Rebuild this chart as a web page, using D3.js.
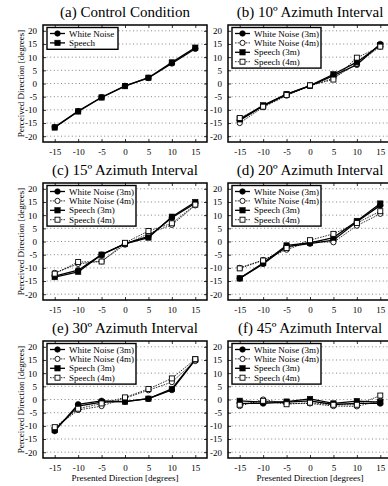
<!DOCTYPE html>
<html>
<head>
<meta charset="utf-8">
<script src="https://cdn.jsdelivr.net/npm/d3@7"></script>
<style>
    body {margin: 0; background: #fff;}
    svg text {font-family: "Liberation Serif", "Times New Roman", Times, "DejaVu Serif", serif;}
</style>
</head>
<body>
<svg id="chart" width="388" height="486"></svg>
<script>
const presented = [-15, -10, -5, 0, 5, 10, 15];
const yTicks = [-20, -15, -10, -5, 0, 5, 10, 15, 20];

const panelTitles = ["(a) Control Condition", "(b) 10º Azimuth Interval", "(c) 15º Azimuth Interval",
    "(d) 20º Azimuth Interval", "(e) 30º Azimuth Interval", "(f) 45º Azimuth Interval"];
const namesControl = ["White Noise", "Speech"];
const namesDistance = ["White Noise (3m)", "White Noise (4m)", "Speech (3m)", "Speech (4m)"];

// (a) control
const controlNoise = [-16.5, -10.5, -5.2, -0.9, 2.1, 7.6, 13.2];
const controlSpeech = [-16.7, -10.6, -5.3, -1.0, 2.2, 8.0, 13.6];

// (b) 10º
const az10Noise3 = [-14.0, -8.5, -4.1, -0.9, 3.0, 7.1, 15.0];
const az10Noise4 = [-15.0, -9.0, -4.6, -0.9, 2.0, 7.5, 14.0];
const az10Speech3 = [-13.6, -8.3, -4.0, -0.8, 3.5, 8.1, 14.6];
const az10Speech4 = [-13.1, -8.8, -4.4, -0.7, 1.5, 9.8, 14.0];

// (c) 15º
const az15Noise3 = [-13.1, -10.9, -5.0, -0.8, 1.9, 9.0, 14.5];
const az15Noise4 = [-11.9, -8.5, -7.5, -1.2, 3.0, 6.3, 13.7];
const az15Speech3 = [-13.5, -11.5, -5.0, -0.9, 1.5, 9.4, 15.0];
const az15Speech4 = [-12.2, -7.8, -7.6, -0.5, 4.0, 6.9, 14.0];

// (d) 20º
const az20Noise3 = [-14.0, -8.5, -1.9, -0.8, 0.5, 7.5, 13.7];
const az20Noise4 = [-10.0, -7.0, -3.1, 0.0, -0.3, 6.0, 10.5];
const az20Speech3 = [-14.0, -8.2, -1.5, -0.5, 1.5, 7.8, 14.4];
const az20Speech4 = [-10.2, -7.2, -2.5, 0.5, 2.9, 7.0, 11.5];

// (e) 30º
const az30Noise3 = [-12.0, -1.8, -0.5, -0.8, 0.3, 3.6, 15.0];
const az30Noise4 = [-10.9, -4.0, -2.5, 0.5, 3.5, 6.6, 14.6];
const az30Speech3 = [-11.6, -2.5, -1.0, -0.8, 0.3, 4.0, 15.2];
const az30Speech4 = [-10.5, -3.5, -1.5, 0.8, 4.0, 8.0, 15.3];

// (f) 45º
const az45Noise3 = [-1.5, -1.5, -1.0, -0.5, -1.9, -1.5, -1.5];
const az45Noise4 = [-2.5, 0.0, -1.5, -1.5, -2.5, -2.6, -0.5];
const az45Speech3 = [-0.5, -1.0, -0.8, 0.2, -1.5, -0.6, -1.0];
const az45Speech4 = [-2.0, -0.5, -1.8, -1.2, -2.0, -2.0, 1.5];

const styles = [
    {shape: "circle", filled: true, dashed: false},
    {shape: "circle", filled: false, dashed: true},
    {shape: "square", filled: true, dashed: false},
    {shape: "square", filled: false, dashed: true}
];

const panels = [
    {title: panelTitles[0], names: namesControl, series: [controlNoise, controlSpeech], styles: [styles[0], styles[2]]},
    {title: panelTitles[1], names: namesDistance, series: [az10Noise3, az10Noise4, az10Speech3, az10Speech4], styles: styles},
    {title: panelTitles[2], names: namesDistance, series: [az15Noise3, az15Noise4, az15Speech3, az15Speech4], styles: styles},
    {title: panelTitles[3], names: namesDistance, series: [az20Noise3, az20Noise4, az20Speech3, az20Speech4], styles: styles},
    {title: panelTitles[4], names: namesDistance, series: [az30Noise3, az30Noise4, az30Speech3, az30Speech4], styles: styles},
    {title: panelTitles[5], names: namesDistance, series: [az45Noise3, az45Noise4, az45Speech3, az45Speech4], styles: styles}
];

const colX = [43, 228], rowY = [25, 183, 341];
const boxW = 164, boxH = 117;

const x = d3.scaleLinear().domain([-17.5, 17.5]).range([0, boxW]);
const y = d3.scaleLinear().domain([-22.2, 22.2]).range([boxH, 0]);
const plain = d => String(d); // keep ASCII hyphen like the original

const svg = d3.select("#chart");

function marker(g, st, cx, cy) {
    if (st.shape === "circle") {
        g.append("circle").attr("cx", cx).attr("cy", cy).attr("r", st.filled ? 2.8 : 2.6)
            .attr("fill", st.filled ? "#000" : "#fff").attr("stroke", "#000").attr("stroke-width", st.filled ? 0.6 : 0.9);
    } else {
        const s = st.filled ? 5.4 : 5;
        g.append("rect").attr("x", cx - s / 2).attr("y", cy - s / 2).attr("width", s).attr("height", s)
            .attr("fill", st.filled ? "#000" : "#fff").attr("stroke", "#000").attr("stroke-width", st.filled ? 0.6 : 0.9);
    }
}

panels.forEach((p, idx) => {
    const col = idx % 2, row = Math.floor(idx / 2);
    const g = svg.append("g").attr("transform", `translate(${colX[col]},${rowY[row]})`);

    g.append("text").attr("x", boxW / 2).attr("y", -8.5).attr("text-anchor", "middle")
        .attr("font-size", 15).text(p.title);

    // dotted grid
    g.selectAll(".grid").data(yTicks).enter().append("line")
        .attr("x1", 0).attr("x2", boxW)
        .attr("y1", d => y(d)).attr("y2", d => y(d))
        .attr("stroke", "#666").attr("stroke-width", 0.8).attr("stroke-dasharray", "1,2.6");

    const left = g.append("g").call(d3.axisLeft(y).tickValues(yTicks).tickFormat(plain).tickSize(-3).tickPadding(6));
    const bottom = g.append("g").attr("transform", `translate(0,${boxH})`)
        .call(d3.axisBottom(x).tickValues(presented).tickFormat(plain).tickSize(-3).tickPadding(6.5));
    g.append("g").call(d3.axisTop(x).tickValues(presented).tickSize(-3).tickFormat(""));
    g.append("g").attr("transform", `translate(${boxW},0)`)
        .call(d3.axisRight(y).tickValues(yTicks).tickSize(-3).tickFormat(""));
    g.selectAll(".domain").remove();
    g.selectAll(".tick line").attr("stroke", "#000").attr("stroke-width", 0.8);
    [left, bottom].forEach(a => {
        a.attr("font-family", null);
        a.selectAll("text").attr("font-size", 9).attr("fill", "#000");
    });

    // series
    const line = d3.line().x((d, i) => x(presented[i])).y(d => y(d));
    p.series.forEach((vals, si) => {
        const st = p.styles[si];
        g.append("path").datum(vals).attr("d", line).attr("fill", "none").attr("stroke", "#000")
            .attr("stroke-width", st.dashed ? 0.8 : 1.3)
            .attr("stroke-dasharray", st.dashed ? "1.6,1.1" : null);
    });
    p.series.forEach((vals, si) => {
        const mg = g.append("g");
        vals.forEach((v, i) => marker(mg, p.styles[si], x(presented[i]), y(v)));
    });

    g.append("rect").attr("width", boxW).attr("height", boxH)
        .attr("fill", "none").attr("stroke", "#000").attr("stroke-width", 1.5);

    // legend
    const lw = p.names.length === 2 ? 71 : 89;
    const rowH = 9.4;
    const lg = g.append("g").attr("transform", "translate(4,2.5)");
    lg.append("rect").attr("width", lw).attr("height", p.names.length * rowH + 3)
        .attr("fill", "#fff").attr("stroke", "#000").attr("stroke-width", 1.4);
    p.names.forEach((name, i) => {
        const st = p.styles[i];
        const cy = 6 + i * rowH;
        lg.append("line").attr("x1", 3).attr("x2", 18).attr("y1", cy).attr("y2", cy)
            .attr("stroke", "#000").attr("stroke-width", st.dashed ? 0.8 : 1.3)
            .attr("stroke-dasharray", st.dashed ? "1.6,1.1" : null);
        marker(lg, st, 10.5, cy);
        lg.append("text").attr("x", 22).attr("y", cy + 3).attr("font-size", 9).text(name);
    });

    if (col === 0) {
        svg.append("text").attr("transform", `translate(24,${rowY[row] + boxH / 2}) rotate(-90)`)
            .attr("text-anchor", "middle").attr("font-size", 9).text("Perceived Direction [degrees]");
    }
    if (row === 2) {
        svg.append("text").attr("x", colX[col] + boxW / 2).attr("y", rowY[row] + boxH + 23)
            .attr("text-anchor", "middle").attr("font-size", 9).text("Presented Direction [degrees]");
    }
});
</script>
</body>
</html>
